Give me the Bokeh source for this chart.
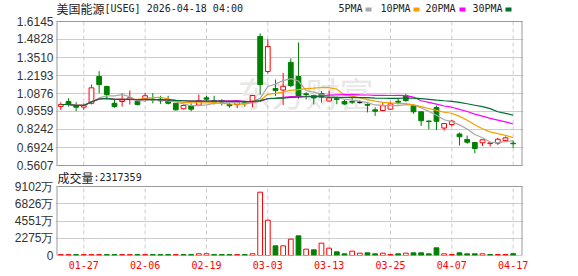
import pandas as pd
from bokeh.plotting import figure
from bokeh.models import Range1d, FixedTicker, Label, Grid, ColumnDataSource
from bokeh.embed import file_html
from bokeh.resources import INLINE

# ---------------- data ----------------
dates = ["01-22", "01-23", "01-26", "01-27", "01-28", "01-29", "01-30", "02-02", "02-03", "02-04",
         "02-05", "02-06", "02-09", "02-10", "02-11", "02-12", "02-13", "02-17", "02-18", "02-19",
         "02-20", "02-23", "02-24", "02-25", "02-26", "02-27", "03-02", "03-03", "03-04", "03-05",
         "03-06", "03-09", "03-10", "03-11", "03-12", "03-13", "03-16", "03-17", "03-18", "03-19",
         "03-20", "03-23", "03-24", "03-25", "03-26", "03-27", "03-30", "03-31", "04-01", "04-02",
         "04-06", "04-07", "04-08", "04-09", "04-10", "04-13", "04-14", "04-15", "04-16", "04-17"]

opens = [0.993, 1.029, 1.000, 0.988, 1.016, 1.212, 1.139, 1.016, 1.029, 1.044,
         1.031, 1.049, 1.046, 1.046, 1.036, 1.016, 0.976, 0.998, 1.002, 1.056,
         1.036, 1.036, 1.007, 1.006, 1.024, 1.032, 1.505, 1.249, 1.124, 1.113,
         1.315, 1.212, 1.085, 1.073, 1.088, 1.033, 1.053, 1.029, 1.029, 1.024,
         1.007, 0.968, 0.963, 0.973, 1.031, 1.071, 0.998, 0.954, 0.886, 0.985,
         0.835, 0.861, 0.791, 0.751, 0.729, 0.727, 0.721, 0.724, 0.743, 0.724]
highs = [1.024, 1.053, 1.024, 1.016, 1.153, 1.251, 1.145, 1.046, 1.090, 1.110,
         1.046, 1.090, 1.090, 1.071, 1.071, 1.016, 1.007, 1.016, 1.080, 1.071,
         1.071, 1.046, 1.027, 1.030, 1.036, 1.075, 1.527, 1.483, 1.190, 1.238,
         1.344, 1.461, 1.097, 1.078, 1.107, 1.110, 1.064, 1.040, 1.056, 1.036,
         1.016, 0.987, 1.022, 1.027, 1.051, 1.085, 1.007, 0.954, 0.890, 1.000,
         0.868, 0.895, 0.802, 0.780, 0.729, 0.751, 0.729, 0.763, 0.773, 0.744]
lows = [0.968, 0.992, 0.958, 0.968, 1.007, 1.090, 1.046, 0.983, 0.992, 1.007,
        1.000, 1.027, 1.016, 1.012, 1.007, 0.963, 0.971, 0.958, 0.998, 1.027,
        1.007, 1.000, 0.983, 0.980, 0.992, 0.988, 1.080, 1.234, 1.069, 1.004,
        1.135, 1.051, 1.044, 1.007, 1.022, 1.029, 1.009, 1.004, 1.012, 1.014,
        0.949, 0.924, 0.963, 0.968, 1.007, 1.027, 0.939, 0.850, 0.826, 0.820,
        0.817, 0.846, 0.707, 0.720, 0.651, 0.703, 0.700, 0.711, 0.740, 0.690]
closes = [1.007, 1.007, 0.987, 1.000, 1.129, 1.153, 1.080, 0.992, 1.041, 1.056,
          1.007, 1.071, 1.039, 1.034, 1.016, 0.968, 1.000, 0.973, 1.036, 1.046,
          1.022, 1.022, 0.998, 1.021, 1.014, 1.073, 1.153, 1.432, 1.110, 1.140,
          1.146, 1.066, 1.080, 1.055, 1.062, 1.055, 1.044, 1.011, 1.024, 1.024,
          1.002, 0.958, 0.998, 1.012, 1.024, 1.036, 0.954, 0.888, 0.882, 0.884,
          0.868, 0.885, 0.771, 0.731, 0.685, 0.749, 0.726, 0.753, 0.763, 0.720]

# volume in 万 (10k shares)
volumes = [120, 120, 120, 120, 120, 120, 120, 120, 120, 120,
           120, 120, 120, 120, 120, 120, 120, 120, 230, 230,
           120, 120, 120, 120, 120, 230, 8350, 4660, 1275, 1275,
           2155, 2594, 835, 750, 1627, 967, 484, 220, 572, 308,
           352, 220, 308, 132, 220, 308, 352, 352, 220, 1012,
           220, 132, 352, 220, 220, 220, 132, 132, 132, 231.7]
volume_up = [1, 1, 0, 1, 1, 1, 0, 0, 1, 1,
             0, 1, 0, 0, 0, 1, 0, 0, 1, 1,
             0, 0, 0, 1, 0, 1, 1, 1, 0, 1,
             1, 0, 1, 0, 1, 1, 0, 0, 1, 1,
             0, 0, 1, 1, 0, 1, 0, 0, 0, 0,
             1, 1, 0, 0, 0, 1, 0, 1, 1, 0]

price_ticks = [0.5607, 0.6924, 0.8242, 0.9559, 1.0876, 1.2193, 1.3510, 1.4828, 1.6145]
price_tick_labels = ["0.5607", "0.6924", "0.8242", "0.9559", "1.0876", "1.2193", "1.3510", "1.4828", "1.6145"]
vol_ticks = [0, 2275, 4551, 6826, 9102]
vol_tick_labels = ["0", "2275万", "4551万", "6826万", "9102万"]
date_tick_idx = [3, 11, 19, 27, 35, 43, 51, 59]

ma_periods = [5, 10, 20, 30]
ma_names = ["5PMA", "10PMA", "20PMA", "30PMA"]
ma_colors = ["#a8a8a8", "#f5a000", "#ff00ff", "#00702f"]

title_name = "美国能源"
title_rest = "[USEG] 2026-04-18 04:00"
vol_title = "成交量"
vol_last = ":2317359"
watermark = "东方财富"

# ---------------- layout (pixels) ----------------
W, H = 578, 276
FRAME_L, FRAME_R = 55, 523
FRAME_T, FRAME_B = 0, 255
PRICE_T, PRICE_B = 21, 165
VOL_T, VOL_B = 186, 255
BAR0_PX, BAR_PX = 60.3, 7.667

RED = "#ff0000"
GREEN = "#008000"
BLACK = "#000000"
GRID = "#cccccc"
BORDER = "#999999"
MONO = "DejaVu Sans Mono"
CJK = "Noto Sans CJK SC"

xr = Range1d((FRAME_L - BAR0_PX) / BAR_PX, (FRAME_R - BAR0_PX) / BAR_PX)
ppx = (price_ticks[-1] - price_ticks[0]) / (PRICE_B - PRICE_T)
yr = Range1d(price_ticks[0] - (FRAME_B - PRICE_B) * ppx, price_ticks[-1] + (PRICE_T - FRAME_T) * ppx)
vpx = (vol_ticks[-1] - vol_ticks[0]) / (VOL_B - VOL_T)
vr = Range1d(vol_ticks[0] - (FRAME_B - VOL_B) * vpx, vol_ticks[-1] + (VOL_T - FRAME_T) * vpx)
pane_l = (FRAME_L + 1.5 - BAR0_PX) / BAR_PX
pane_r = (FRAME_R - 1.5 - BAR0_PX) / BAR_PX


def px_x(px):
    return (px - BAR0_PX) / BAR_PX


def px_y(py):
    return price_ticks[-1] + (PRICE_T - py) * ppx


def px_v(py):
    return (VOL_B - py) * vpx


def vol_on_price_axis(v):
    # where a volume value sits on the shared left axis
    return px_y(VOL_B - v / vpx)


idx = list(range(len(dates)))

cand_line, cand_fill = [], []
for o, c in zip(opens, closes):
    if c > o:
        cand_line.append(RED); cand_fill.append("#ffffff")
    elif c < o:
        cand_line.append(GREEN); cand_fill.append(GREEN)
    else:
        cand_line.append(BLACK); cand_fill.append(BLACK)

src = ColumnDataSource(dict(
    x=idx, h=highs, l=lows,
    top=[max(o, c) for o, c in zip(opens, closes)],
    bot=[min(o, c) for o, c in zip(opens, closes)],
    lc=cand_line, fc=cand_fill,
))
vsrc = ColumnDataSource(dict(
    x=idx, v=volumes,
    fc=["#ffffff" if u else GREEN for u in volume_up],
    lc=[RED if u else GREEN for u in volume_up],
))

p = figure(width=W, height=H, x_range=xr, y_range=yr, output_backend="svg", toolbar_location=None,
           min_border_left=FRAME_L, min_border_right=W - FRAME_R, min_border_top=FRAME_T,
           min_border_bottom=H - FRAME_B)
p.extra_y_ranges = {"vol": vr}
p.outline_line_color = None
p.background_fill_color = "#ffffff"
p.border_fill_color = "#ffffff"

# shared left axis: price ticks for the upper pane, volume ticks for the lower pane
vol_tick_pos = [vol_on_price_axis(v) for v in vol_ticks]
ay = p.yaxis[0]
ay.ticker = FixedTicker(ticks=price_ticks + vol_tick_pos)
overrides = {t: s for t, s in zip(price_ticks, price_tick_labels)}
overrides.update({t: s for t, s in zip(vol_tick_pos, vol_tick_labels)})
ay.major_label_overrides = overrides
ay.axis_line_color = None
ay.major_tick_line_color = None
ay.minor_tick_line_color = None
ay.major_tick_in = 0
ay.major_tick_out = 0
ay.major_label_standoff = 2
ay.major_label_text_font = "Liberation Sans"
ay.major_label_text_font_size = "12px"
ay.major_label_text_color = "#333333"
p.ygrid.ticker = FixedTicker(ticks=price_ticks)
p.ygrid.grid_line_color = GRID
p.add_layout(Grid(dimension=1, y_range_name="vol", ticker=FixedTicker(ticks=vol_ticks),
                  grid_line_color=GRID))

# date axis
ax = p.xaxis[0]
ax.ticker = FixedTicker(ticks=date_tick_idx)
ax.major_label_overrides = {i: dates[i] for i in date_tick_idx}
ax.axis_line_color = None
ax.major_tick_line_color = None
ax.minor_tick_line_color = None
ax.major_tick_in = 0
ax.major_tick_out = 0
ax.major_label_standoff = 5
ax.major_label_text_font = MONO
ax.major_label_text_font_size = "10px"
ax.major_label_text_color = RED
p.xgrid.visible = False

# vertical dashed date lines in each pane
n_t = len(date_tick_idx)
p.segment(x0=date_tick_idx, y0=[price_ticks[0]] * n_t, x1=date_tick_idx, y1=[price_ticks[-1]] * n_t,
          line_color=GRID, line_dash="4 3", line_width=1)
p.segment(x0=date_tick_idx, y0=[vol_ticks[0]] * n_t, x1=date_tick_idx, y1=[vol_ticks[-1]] * n_t,
          line_color=GRID, line_dash="4 3", line_width=1, y_range_name="vol")

# watermark
p.add_layout(Label(x=px_x(305), y=px_y(92), text=watermark, text_font=CJK, text_font_size="34px",
                   text_color="#e8e8e8", text_align="center", text_baseline="middle", level="underlay"))

# candles
p.segment(x0="x", y0="l", x1="x", y1="h", line_color="lc", line_width=1, source=src)
p.vbar(x="x", width=0.62, top="top", bottom="bot", fill_color="fc", line_color="lc", line_width=1, source=src)

cs = pd.Series(closes)
for n, col in zip(ma_periods, ma_colors):
    ma = cs.rolling(n, min_periods=1).mean()
    p.line(idx, list(ma), line_color=col, line_width=1.2)

# volume bars
p.vbar(x="x", width=0.62, top="v", bottom=0, fill_color="fc", line_color="lc", line_width=1,
       source=vsrc, y_range_name="vol")

# pane borders
p.quad(left=[pane_l], right=[pane_r], bottom=[price_ticks[0]], top=[price_ticks[-1]],
       fill_color=None, line_color=BORDER, line_width=1)
p.quad(left=[pane_l], right=[pane_r], bottom=[vol_ticks[0]], top=[vol_ticks[-1]],
       fill_color=None, line_color=BORDER, line_width=1, y_range_name="vol")

# title
p.add_layout(Label(x=px_x(56), y=px_y(7.5), text=title_name, text_font=CJK, text_font_size="12px",
                   text_color="#222222", text_baseline="middle"))
p.add_layout(Label(x=px_x(104), y=px_y(7.5), text=title_rest, text_font=MONO, text_font_size="10px",
                   text_color="#222222", text_baseline="middle"))
# legend
leg_text_px = [338, 380, 425, 472]
leg_box_px = [368, 416, 462, 508]
for name, tx in zip(ma_names, leg_text_px):
    p.add_layout(Label(x=px_x(tx), y=px_y(8), text=name, text_font=MONO, text_font_size="10px",
                       text_color="#222222", text_baseline="middle"))
p.rect(x=[px_x(b) for b in leg_box_px], y=[px_y(9)] * len(leg_box_px), width=6, height=4,
       width_units="screen", height_units="screen", fill_color=ma_colors, line_color=None)

# volume caption
p.add_layout(Label(x=px_x(57), y=px_v(177), y_range_name="vol", text=vol_title, text_font=CJK,
                   text_font_size="12px", text_color="#222222", text_baseline="middle"))
p.add_layout(Label(x=px_x(93), y=px_v(177), y_range_name="vol", text=vol_last, text_font=MONO,
                   text_font_size="10px", text_color="#222222", text_baseline="middle"))

open("out.html", "w").write(file_html(p, INLINE))
